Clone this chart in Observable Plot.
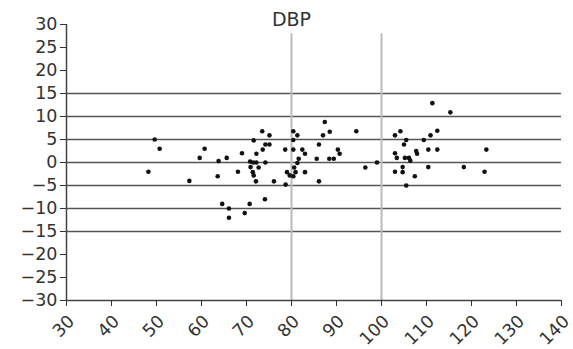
<!DOCTYPE html>
<html>
<head>
<meta charset="utf-8">
<script src="https://cdn.jsdelivr.net/npm/d3@7"></script>
<script src="https://cdn.jsdelivr.net/npm/@observablehq/plot@0.6"></script>
<style>
  html, body { margin: 0; padding: 0; background: #fff; }
  #chart svg { display: block; }
</style>
</head>
<body>
<div id="chart"></div>
<script>
const title = "DBP";
const xTicks = [30, 40, 50, 60, 70, 80, 90, 100, 110, 120, 130, 140];
const yTicks = [-30, -25, -20, -15, -10, -5, 0, 5, 10, 15, 20, 25, 30];
const gridY = [-15, -10, -5, 0, 5, 10, 15];
const refX = [80, 100];

const xs = [49.6, 50.7, 48.2, 57.3, 60.7, 59.6, 63.8, 65.6, 63.6, 64.6, 66.1, 66.1, 68.1, 69.0, 69.6, 70.7,
  70.9, 70.8, 71.5, 72.2, 71.4, 71.6, 72.1, 71.6, 72.2, 72.7, 73.6, 73.5, 74.2, 75.1, 74.2, 75.1, 74.1, 76.1,
  78.6, 78.7, 79.0, 79.6, 80.4, 80.9, 80.6, 81.3, 81.6, 80.4, 82.4, 83.0, 80.4, 81.3, 80.4, 83.0, 85.6, 86.1,
  86.1, 87.0, 87.4, 88.5, 88.4, 89.4, 90.3, 90.7, 94.4, 96.4, 99.0,
  103.0, 104.2, 105.0, 105.5, 109.4, 110.9, 112.4, 111.3, 115.3, 103.0, 103.4, 105.2, 106.1, 106.4, 107.7,
  107.9, 110.4, 112.4, 123.3, 103.0, 104.7, 104.7, 107.4, 110.4, 105.5, 118.3, 122.9];
const ys = [5, 3, -2, -4, 3, 1, 0.3, 1, -3, -9, -10, -12, -2, 2, -11, -9,
  -1, 0.2, 0, 0, -2.1, -2.8, -4.1, 4.8, 1.9, -1.1, 2.8, 6.8, 3.9, 3.9, 0, 5.9, -8, -4.1,
  2.8, -4.8, -2.1, -2.8, -3, -2.1, -1.1, -0.1, 0.8, 2.8, 2.8, 1.9, 4.9, 5.9, 6.8, -2.1, 0.8, 3.9,
  -4.1, 5.9, 8.8, 6.7, 0.8, 0.8, 2.8, 1.9, 6.8, -1.1, 0,
  5.9, 6.8, 3.9, 4.9, 4.9, 5.9, 6.9, 12.9, 10.9, 2, 1, 1, 1, 0.4, 2.5,
  1.9, 2.8, 2.8, 2.8, -2, -1, -2.1, -3, -1, -5, -1, -2];

const points = xs.map((x, i) => ({x, y: ys[i]}));

const chart = Plot.plot({
  width: 573,
  height: 349,
  marginLeft: 66,
  marginRight: 12,
  marginTop: 24,
  marginBottom: 49,
  style: {fontFamily: "DejaVu Sans", fontSize: "17.5px", color: "#333", background: "#fff"},
  x: {domain: [30, 140], label: null, axis: null},
  y: {domain: [-30, 30], ticks: yTicks, tickSize: 6, label: null},
  marks: [
    Plot.ruleY(gridY, {x1: 30, x2: 140, stroke: "#555", strokeWidth: 1.6}),
    Plot.ruleX(refX, {y1: -30, y2: 28, stroke: "#bbb", strokeWidth: 2}),
    Plot.ruleX([30], {y1: -30, y2: 30, stroke: "#444", strokeWidth: 1.5}),
    Plot.ruleY([-30], {x1: 30, x2: 140, stroke: "#444", strokeWidth: 1.5}),
    Plot.axisX({ticks: xTicks, tickSize: 6, tickFormat: () => ""}),
    Plot.axisX({ticks: xTicks, tickSize: 0, tickRotate: -45, tickPadding: 18, dx: 5}),
    Plot.dot(points, {x: "x", y: "y", r: 2.3, fill: "#111", stroke: "none"}),
    Plot.text([title], {x: 80, y: 30, lineAnchor: "bottom", dy: 1, fontSize: 19, fill: "#333"})
  ]
});
document.getElementById("chart").appendChild(chart);
</script>
</body>
</html>
